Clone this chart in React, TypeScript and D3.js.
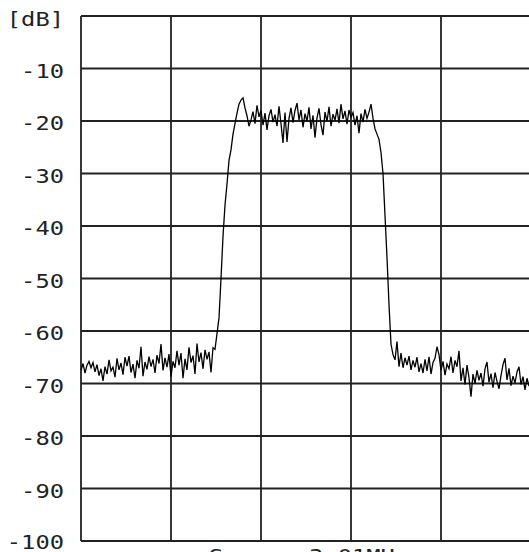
import React from "react";
import * as d3 from "d3";

const dbTicks = [0, -10, -20, -30, -40, -50, -60, -70, -80, -90, -100];
const tickLabels = ["", "-10", "-20", "-30", "-40", "-50", "-60", "-70", "-80", "-90", "-100"];
const freqDivisions = [0, 1, 2, 3, 4, 5];
const unitLabel = "[dB]";
const spanLabel = "Span   3.01MHz";

const noiseLeft = [
  -67.5, -66.2, -68.0, -66.5, -65.8, -67.0, -66.0, -67.8, -66.4, -68.5,
  -67.2, -69.5, -66.8, -68.2, -65.5, -67.6, -66.9, -68.8, -65.2, -67.4,
  -66.1, -68.3, -65.0, -66.7, -64.8, -67.9, -66.3, -69.0, -65.6, -67.1,
  -63.0, -68.6, -65.9, -67.3, -64.9, -66.8, -65.4, -68.0, -64.6, -66.2,
  -62.5, -67.5, -65.1, -66.9, -64.4, -68.7, -65.8, -67.0, -63.8, -66.5,
  -64.2, -69.0, -65.3, -67.4, -63.1, -66.0, -64.7, -68.2, -62.4, -65.9,
  -64.1, -67.2, -63.6, -65.4, -64.0, -67.9, -63.2,
];
const riseEdge = [
  -63.5, -60.5, -57.5, -50, -42, -36, -32, -27.5, -25.5, -22.5, -20.5, -18.5,
  -16.8, -16.0, -15.6, -17.5, -19.0, -21.0,
];
const topBand = [
  -19.8, -18.2, -20.5, -17.0, -19.2, -18.0, -20.8, -18.5, -21.7, -19.0,
  -17.8, -20.2, -18.8, -21.0, -17.2, -20.5, -24.2, -18.4, -24.0, -19.5,
  -17.5, -20.3, -18.0, -16.6, -19.8, -17.9, -21.2, -18.6, -20.0, -17.4,
  -21.5, -18.9, -23.2, -19.4, -17.6, -20.7, -22.7, -18.3, -20.1, -17.3,
  -21.0, -18.7, -19.9, -17.7, -20.4, -16.8, -19.6, -18.1, -20.6, -17.9,
  -19.3, -18.4, -20.8, -19.0, -22.3, -18.6, -20.2, -17.8, -19.5, -18.3,
  -16.8,
];
const fallEdge = [-19.5, -21.5, -22.5, -23.5, -26, -30, -38, -46, -55, -62.5, -64.5];
const noiseRight = [
  -65.5, -62.0, -66.8, -64.2, -67.0, -65.1, -66.5, -64.8, -67.4, -65.6,
  -66.9, -65.0, -67.8, -66.2, -68.0, -65.4, -67.6, -64.9, -68.2, -66.0,
  -65.2, -63.0, -64.5, -67.5, -65.8, -68.4, -66.3, -67.2, -64.9, -68.0,
  -65.6, -66.8, -63.8, -69.5, -67.0, -70.2, -66.5, -68.9, -72.5, -68.2,
  -70.0, -67.5, -69.4, -68.0, -70.5, -67.2, -65.9, -69.8, -68.1, -70.8,
  -67.9, -69.6, -71.0, -68.5, -66.4, -65.2, -69.3, -67.1, -70.4, -68.6,
  -69.9, -67.8, -66.8, -70.2, -68.7, -71.2, -69.0, -70.5,
];

const trace = [...noiseLeft, ...riseEdge, ...topBand, ...fallEdge, ...noiseRight];

const W = 529;
const H = 552;
const left = 81;
const top = 16;
const bottom = 541;
const divW = 90;
const right = left + divW * 5;
const nPts = 225;

export default function App() {
  const x = d3.scaleLinear().domain([0, nPts]).range([left, right]);
  const xDiv = d3.scaleLinear().domain([0, 5]).range([left, right]);
  const y = d3.scaleLinear().domain([0, -100]).range([top, bottom]);
  const line = d3
    .line<number>()
    .x((_, i) => x(i))
    .y((d) => y(d))
    .curve(d3.curveLinear);

  const font = "'DejaVu Sans Mono', 'Liberation Mono', monospace";
  const gridColor = "#222";
  const sx = 1.25;

  const label = (key: string, txt: string, xEnd: number, yb: number) => (
    <text
      key={key}
      transform={`translate(${xEnd},${yb}) scale(${sx},1)`}
      textAnchor="end"
      fontFamily={font}
      fontSize={19}
      fill="#222"
    >
      {txt}
    </text>
  );

  return (
    <svg
      width={W}
      height={H}
      style={{ position: "absolute", left: 0, top: 0, background: "#fff" }}
    >
      <rect x={0} y={0} width={W} height={H} fill="#fff" />
      {dbTicks.map((t) => (
        <line
          key={"h" + t}
          x1={left}
          x2={right}
          y1={y(t)}
          y2={y(t)}
          stroke={gridColor}
          strokeWidth={1.8}
        />
      ))}
      {freqDivisions.map((d) => (
        <line
          key={"v" + d}
          x1={xDiv(d)}
          x2={xDiv(d)}
          y1={top}
          y2={bottom}
          stroke={gridColor}
          strokeWidth={1.8}
        />
      ))}
      <path d={line(trace) || ""} fill="none" stroke="#000" strokeWidth={1.3} />
      {dbTicks.map((t, i) =>
        tickLabels[i] ? label("l" + t, tickLabels[i], 64, Math.min(y(t) + 9, 549)) : null
      )}
      {label("unit", unitLabel, 64, 26)}
      <text
        transform={`translate(209,563) scale(${sx},1)`}
        fontFamily={font}
        fontSize={19}
        fill="#222"
        style={{ whiteSpace: "pre" }}
      >
        {spanLabel}
      </text>
    </svg>
  );
}
